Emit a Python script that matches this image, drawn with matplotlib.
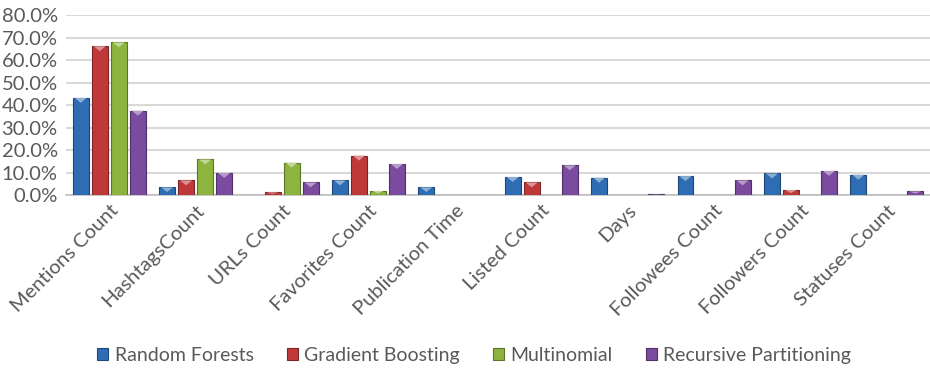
import numpy as np
import matplotlib.pyplot as plt
from matplotlib.patches import Polygon
from matplotlib.ticker import PercentFormatter

features = [
    "Mentions Count",
    "HashtagsCount",
    "URLs Count",
    "Favorites Count",
    "Publication Time",
    "Listed Count",
    "Days",
    "Followees Count",
    "Followers Count",
    "Statuses Count",
]

random_forests = [43.2, 3.4, 0.0, 6.5, 3.4, 8.0, 7.7, 8.4, 9.6, 9.0]
gradient_boosting = [66.2, 6.5, 1.2, 17.5, 0.0, 5.6, 0.0, 0.0, 2.2, 0.0]
multinomial = [67.9, 15.8, 14.4, 1.8, 0.0, 0.0, 0.0, 0.0, 0.0, 0.0]
recursive_partitioning = [37.5, 9.8, 5.6, 13.8, 0.0, 13.2, 0.3, 6.5, 10.7, 1.6]

series = [
    ("Random Forests", random_forests, "#2E6DB4"),
    ("Gradient Boosting", gradient_boosting, "#C0393A"),
    ("Multinomial", multinomial, "#8DB43E"),
    ("Recursive Partitioning", recursive_partitioning, "#7A4B9E"),
]

plt.rcParams["font.family"] = ["Lato", "DejaVu Sans"]
text_color = "#595959"


def shade(color, amount):
    rgb = np.array(plt.matplotlib.colors.to_rgb(color))
    if amount > 0:
        rgb = rgb + (1 - rgb) * amount
    else:
        rgb = rgb * (1 + amount)
    return tuple(np.clip(rgb, 0, 1))


fig = plt.figure(figsize=(9.3, 3.7), dpi=100)
ax = fig.add_axes([0.071, 0.473, 0.929, 0.486])

x = np.arange(len(features))
width = 0.185
pitch = 0.22

for i, (name, values, color) in enumerate(series):
    offset = (i - 1.5) * pitch
    bars = ax.bar(x + offset, values, width, color=color,
                  edgecolor=shade(color, -0.35), linewidth=0.8,
                  label=name, zorder=3)
    # bevel highlight at the top of each bar
    for b in bars:
        h = b.get_height()
        if h <= 0:
            continue
        bx, bw = b.get_x(), b.get_width()
        depth = min(2.2, h * 0.6)
        tri = Polygon([(bx + bw * 0.12, h), (bx + bw * 0.88, h),
                       (bx + bw * 0.5, h - depth)],
                      closed=True, facecolor=shade(color, 0.45),
                      edgecolor="none", zorder=4)
        ax.add_patch(tri)

ax.set_xlim(-0.5, len(features) - 0.5)
ax.set_ylim(0, 80)
ax.set_yticks(np.arange(0, 81, 10))
ax.yaxis.set_major_formatter(PercentFormatter(decimals=1))
ax.set_xticks(x)
ax.set_xticklabels(features, rotation=45, ha="right",
                   rotation_mode="anchor")

ax.grid(axis="y", color="#D9D9D9", linewidth=1.5, zorder=0)
ax.set_axisbelow(True)
for side in ["top", "right", "left"]:
    ax.spines[side].set_visible(False)
ax.spines["bottom"].set_color("#BFBFBF")
ax.spines["bottom"].set_linewidth(1.2)
ax.tick_params(axis="both", length=0, labelcolor=text_color)
ax.tick_params(axis="y", labelsize=14.5, pad=6)
ax.tick_params(axis="x", labelsize=14.5, pad=5)

fig.legend(loc="lower center", bbox_to_anchor=(0.51, -0.03), ncol=4,
           frameon=False, fontsize=14, labelcolor=text_color,
           handlelength=0.55, handleheight=0.55, handletextpad=0.35,
           columnspacing=1.7)

fig.savefig("out.png", dpi=100)
